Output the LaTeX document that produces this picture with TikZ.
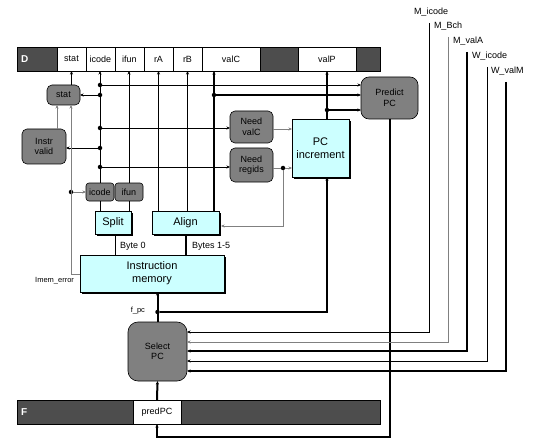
\documentclass[tikz,border=0pt]{standalone}
\usepackage{fontspec}
\setmainfont{Liberation Sans}
\usetikzlibrary{arrows.meta,shadows,calc}
\definecolor{regdark}{HTML}{4D4D4D}
\definecolor{boxgray}{HTML}{808080}
\definecolor{cyanbox}{HTML}{CCFFFF}
\definecolor{wiregray}{HTML}{808080}
\begin{document}
\begin{tikzpicture}[x=1pt,y=-1pt,
  every node/.style={inner sep=0pt, outer sep=0pt, font=\fontsize{9}{10.5}\selectfont},
  reg/.style={draw=black, fill=regdark, line width=0.6pt, anchor=north west, minimum height=24pt},
  fld/.style={draw=black, fill=white, line width=0.6pt, anchor=north west, minimum height=24pt},
  gbox/.style={draw=black, fill=boxgray, rounded corners=5pt, anchor=north west, line width=0.6pt, align=center},
  cbox/.style={draw=black, fill=cyanbox, anchor=north west, line width=0.6pt, align=center, font=\fontsize{11}{13}\selectfont, drop shadow={shadow xshift=2pt, shadow yshift=-2pt, fill=black, opacity=1}},
  w/.style={line width=0.8pt},
  wt/.style={line width=2pt},
  wg/.style={line width=0.8pt, draw=wiregray},
  ar/.style={-{Stealth[length=3.5pt,width=3pt]}},
  dot/.style={circle, fill=black, minimum size=4.5pt},
  reglab/.style={text=white, font=\bfseries\fontsize{10}{12}\selectfont, anchor=west},
  small/.style={font=\fontsize{7.5}{9}\selectfont}
]
\useasboundingbox (0,0) rectangle (539,444);

% ---------- D register ----------
\node[reg, minimum width=363pt] (dreg) at (17,47) {};
\node[reglab] (dlab) at (21,59) {D};
\node[fld, minimum width=29pt] (fstat) at (57,47) {stat};
\node[fld, minimum width=29pt] (fic) at (86,47) {icode};
\node[fld, minimum width=29pt] (fif) at (115,47) {ifun};
\node[fld, minimum width=29pt] (fra) at (144,47) {rA};
\node[fld, minimum width=29pt] (frb) at (173,47) {rB};
\node[fld, minimum width=58pt] (fvc) at (202,47) {valC};
\node[fld, minimum width=58pt] (fvalp) at (298,47) {valP};

% ---------- F register ----------
\node[reg, minimum width=363pt] (freg) at (17,400) {};
\node[reglab] (flab) at (21,412) {F};
\node[fld, minimum width=48pt] (fpred) at (133,400) {predPC};

% ---------- boxes ----------
\node[gbox, minimum width=33pt, minimum height=20pt] (statb) at (47,85) {stat};
\node[gbox, minimum width=44pt, minimum height=35pt] (instr) at (22,129) {Instr\\valid};
\node[gbox, minimum width=28pt, minimum height=18pt, rounded corners=3pt] (icodeb) at (86,183) {icode};
\node[gbox, minimum width=28pt, minimum height=18pt, rounded corners=3pt] (ifunb) at (115,183) {ifun};
\node[gbox, minimum width=43pt, minimum height=32pt] (needc) at (230,111) {Need\\valC};
\node[gbox, minimum width=43pt, minimum height=34pt] (needr) at (230,148) {Need\\regids};
\node[gbox, minimum width=57pt, minimum height=42pt, rounded corners=8pt] (predict) at (361,77) {Predict\\PC};
\node[gbox, minimum width=59pt, minimum height=59pt, rounded corners=10pt] (selpc) at (128,322) {Select\\PC};

\node[cbox, minimum width=57pt, minimum height=58pt] (pcinc) at (292,119) {PC\\increment};
\node[cbox, minimum width=36pt, minimum height=23pt] (split) at (95,211) {Split};
\node[cbox, minimum width=67pt, minimum height=23pt] (align) at (152,211) {Align};
\node[cbox, minimum width=144pt, minimum height=37pt] (mem) at (80,255) {Instruction\\memory};

% ---------- dots ----------
\node[dot] (d1) at (100,85) {};
\node[dot] (d2) at (100,95) {};
\node[dot] (d3) at (100,128) {};
\node[dot] (d4) at (100,148) {};
\node[dot] (d5) at (100,167) {};
\node[dot] (dv) at (214,95) {};
\node[dot] (dp) at (327,110) {};
\node[dot] (dr) at (283,168) {};
\node[dot] (dm) at (71,192) {};
\node[dot] (df) at (157.5,312) {};

% ---------- wires into D ----------
\draw[w,ar] (fstat.south |- statb.north) -- (fstat.south);
\draw[w,ar] (icodeb.north) -- (icodeb.north |- fic.south);
\draw[w,ar] (ifunb.north) -- (ifunb.north |- fif.south);
\draw[w,ar] (fra.south |- align.north) -- (fra.south);
\draw[w,ar] (frb.south |- align.north) -- (frb.south);
\draw[wt,ar] (dv |- align.north) -- (dv |- fvc.south);
\draw[wt,ar] (dp |- pcinc.north) -- (fvalp.south);

% ---------- icode bus ----------
\draw[w,ar] (d1) -- (d1 -| predict.west);
\draw[w,ar] (d2) -- (d2 -| statb.east);
\draw[w,ar] (d3) -- (d3 -| needc.west);
\draw[w,ar] (d4) -- (d4 -| instr.east);
\draw[w,ar] (d5) -- (d5 -| needr.west);
\draw[wt,ar] (dv) -- (dv -| predict.west);
\draw[wt,ar] (dp) -- (dp -| predict.west);

% ---------- need -> pc increment ----------
\coordinate (nc) at (273,129);
\draw[wg,ar] (nc) -- (nc -| pcinc.west);
\draw[wg] (needr.east |- dr) -- (dr);
\draw[wg,ar] (dr) -- (dr -| pcinc.west);
\coordinate (alignin) at (221,226);
\draw[wg,ar] (dr) |- (alignin);

% ---------- gray status wires ----------
\coordinate (ivtop) at (57,129);
\draw[wg,ar] (ivtop) -- (ivtop |- statb.south);
\coordinate (imemout) at (80,274);
\draw[wg,ar] (imemout) -| (dm |- statb.south);
\draw[wg,ar] (dm) -- (dm -| icodeb.west);
\node[small, anchor=east] (imlab) at (74,281) {Imem\_error};

% ---------- split / align / memory ----------
\draw[w] (icodeb.south) -- (icodeb.south |- split.north);
\draw[w] (ifunb.south) -- (ifunb.south |- split.north);
\coordinate (sb) at (115,234);
\draw[w] (sb) -- (sb |- mem.north);
\coordinate (ab) at (186,234);
\draw[wt] (ab) -- (ab |- mem.north);
\node[anchor=west] (b0) at (120,246) {Byte 0};
\node[anchor=west] (b15) at (192,246) {Bytes 1-5};

% ---------- f_pc ----------
\draw[wt,ar] (selpc.north) -- (selpc.north |- mem.south);
\draw[wt,ar] (df) -| (dp |- pcinc.south);
\node[small, anchor=east] (fpclab) at (145,311) {f\_pc};

% ---------- predict -> F ----------
\draw[wt,ar] (predict.south) |- ($(fpred.south)+(0,13)$) -- (fpred.south);
\draw[wt,ar] (fpred.north) -- (selpc.south);

% ---------- forwarded signals ----------
\node[anchor=west] (lmi) at (414,12) {M\_icode};
\node[anchor=west] (lmb) at (434,26) {M\_Bch};
\node[anchor=west] (lmv) at (453,41) {M\_valA};
\node[anchor=west] (lwi) at (472,56) {W\_icode};
\node[anchor=west] (lwv) at (491,71) {W\_valM};
\coordinate (tmi) at (429,23);
\coordinate (tmb) at (448,37);
\coordinate (tmv) at (467,52);
\coordinate (twi) at (487,67);
\coordinate (twv) at (506,82);
\draw[w,ar] (tmi) |- ($(selpc.north east)+(0,10)$);
\draw[wg,ar] (tmb) |- ($(selpc.north east)+(0,20)$);
\draw[wt,ar] (tmv) |- ($(selpc.north east)+(0,29)$);
\draw[w,ar] (twi) |- ($(selpc.north east)+(0,39)$);
\draw[wt,ar] (twv) |- ($(selpc.north east)+(0,49)$);
\end{tikzpicture}
\end{document}
